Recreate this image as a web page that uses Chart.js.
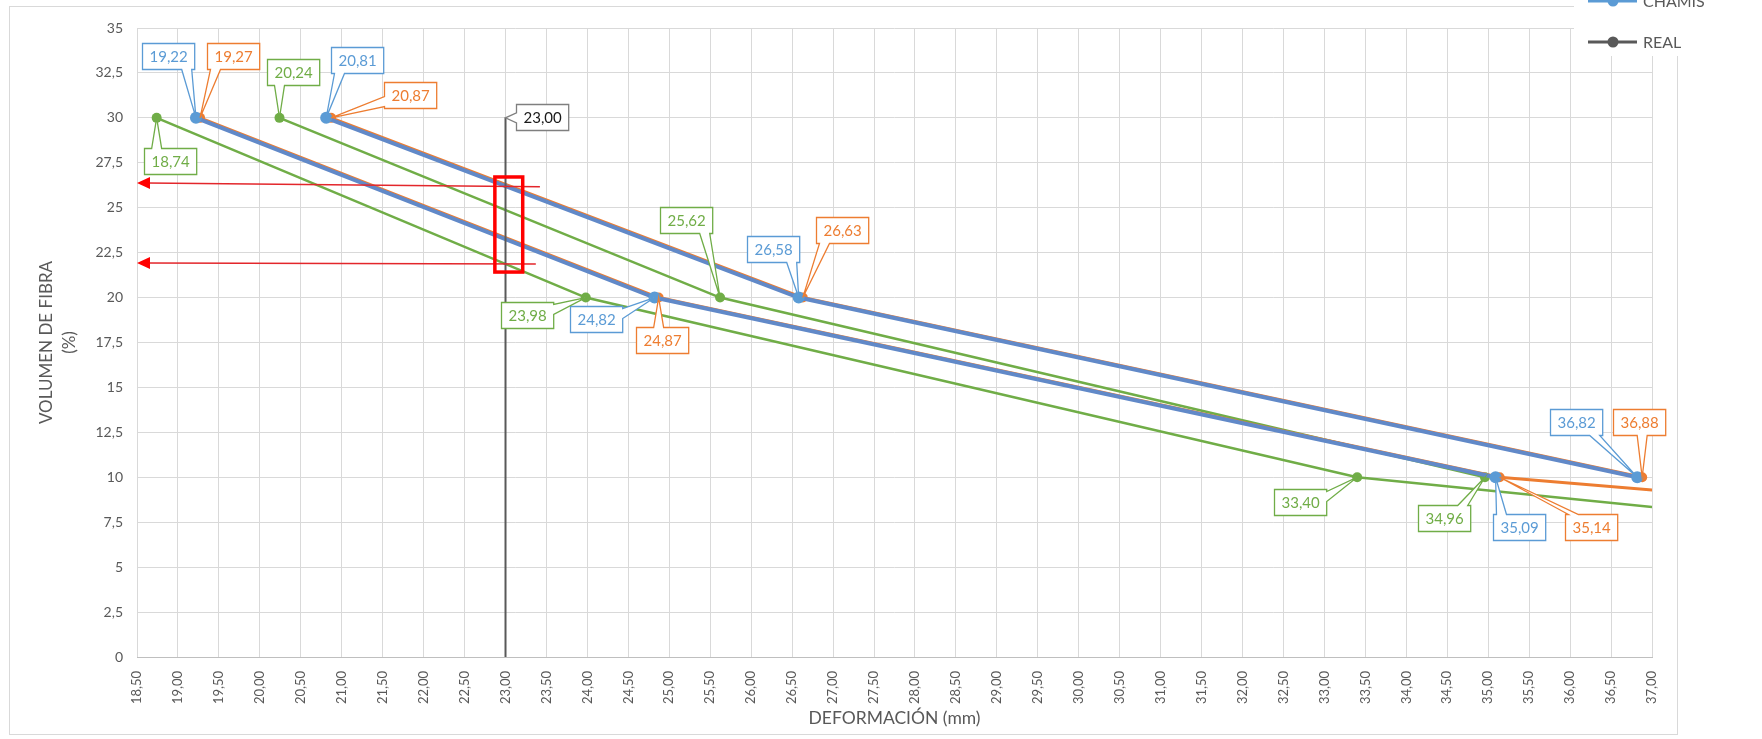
<!DOCTYPE html>
<html>
<head>
<meta charset="utf-8">
<script src="https://cdn.jsdelivr.net/npm/chart.js@4.4.0/dist/chart.umd.min.js"></script>
<style>
  html, body { margin: 0; padding: 0; background: #ffffff; }
  #wrap { position: relative; width: 1762px; height: 739px; }
</style>
</head>
<body>
<div id="wrap"><canvas id="grafico" width="1762" height="739"></canvas></div>
<script>
// Volumen de fibra (%) para cada punto de las curvas
const volumenFibra = [30, 20, 10];

// Deformación (mm) por serie
const chamisA  = [19.22, 24.82, 35.09];
const chamisB  = [20.81, 26.58, 36.82];
const naranjaA = [19.27, 24.87, 35.14];
const naranjaB = [20.87, 26.63, 36.88];
const verdeA   = [18.74, 23.98, 33.40];
const verdeB   = [20.24, 25.62, 34.96];

// Tramo final de dos series que continúa fuera del eje (5 % de fibra)
const naranjaAFinal = { x: 48.2, y: 5 };
const verdeAFinal   = { x: 44.3, y: 5 };

// Ensayo real: deformación constante
const realX = [23.00, 23.00];
const realY = [0, 30];

// Ejes
const ejeX = { min: 18.5, max: 37, paso: 0.5 };
const ejeY = { min: 0, max: 35, paso: 2.5 };

// Lecturas marcadas en rojo sobre x = 23
const flechas = [
  { desde: [23.42, 26.16], hasta: [18.5, 26.38] },
  { desde: [23.37, 21.87], hasta: [18.5, 21.92] }
];
const recuadro = { x0: 22.87, x1: 23.21, y0: 26.71, y1: 21.42 };

// Desplazamiento (px) de cada etiqueta respecto a su punto
const despChamisA  = [[-28, -62], [-58, 21], [24, 50]];
const despChamisB  = [[31, -58], [-26, -49], [-61, -55]];
const despNaranjaA = [[33, -62], [3, 42], [91, 50]];
const despNaranjaB = [[79, -23], [39, -68], [-3, -55]];
const despVerdeA   = [[13, 43], [-59, 17], [-57, 25]];
const despVerdeB   = [[14, -46], [-34, -78], [-41, 41]];
const despReal     = [null, [37, -1]];

const AZUL = '#5b9bd5', AZUL_LINEA = '#6189c8';
const NARANJA = '#ed7d31', VERDE = '#70ad47', GRIS = '#595959';
const FUENTE = 'Lato, "Open Sans", sans-serif';

const puntos = (xs, ys) => xs.map((x, i) => ({ x, y: ys[i] }));
const coma = (v, d) => v.toFixed(d).replace('.', ',');

function serie(label, xs, color, lineColor, ancho, radio, orden, desp, extra) {
  const data = puntos(xs, volumenFibra);
  if (extra) data.push(extra);
  return {
    label, data,
    borderColor: lineColor, backgroundColor: color,
    borderWidth: ancho,
    pointRadius: data.map((_, i) => (i < xs.length ? radio : 0)),
    pointBackgroundColor: color, pointBorderColor: color, pointBorderWidth: 0,
    pointHoverRadius: radio,
    tension: 0, order: orden,
    etiquetas: { desp, color, texto: color }
  };
}

const datasets = [
  {
    label: 'REAL', data: puntos(realX, realY),
    borderColor: GRIS, backgroundColor: GRIS, borderWidth: 2,
    pointRadius: 0, tension: 0, order: 0,
    etiquetas: { desp: despReal, color: '#7f7f7f', texto: '#1a1a1a' }
  },
  serie('CHAMIS', chamisA, AZUL, AZUL_LINEA, 4, 6, 1, despChamisA),
  serie('CHAMIS', chamisB, AZUL, AZUL_LINEA, 4, 6, 1, despChamisB),
  serie('Serie naranja A', naranjaA, NARANJA, NARANJA, 3, 5, 2, despNaranjaA, naranjaAFinal),
  serie('Serie naranja B', naranjaB, NARANJA, NARANJA, 3, 5, 2, despNaranjaB),
  serie('Serie verde A', verdeA, VERDE, VERDE, 2.5, 5, 3, despVerdeA, verdeAFinal),
  serie('Serie verde B', verdeB, VERDE, VERDE, 2.5, 5, 3, despVerdeB)
];

// Marco exterior del gráfico
const marco = {
  id: 'marco',
  beforeDraw(chart) {
    const ctx = chart.ctx;
    ctx.save();
    ctx.fillStyle = '#ffffff';
    ctx.fillRect(0, 0, chart.width, chart.height);
    ctx.strokeStyle = '#d9d9d9';
    ctx.lineWidth = 1;
    ctx.strokeRect(9.5, 6.5, 1668, 728);
    ctx.restore();
  }
};

// Rótulo con forma de globo que apunta al punto
function globo(ctx, l, t, w, h, px, py) {
  const r = l + w, b = t + h, cx = l + w / 2, cy = t + h / 2;
  const dx = px - cx, dy = py - cy, hw = 5;
  const lim = (v, a, c) => Math.max(a, Math.min(c, v));
  const dentro = px >= l && px <= r && py >= t && py <= b;
  let lado = null;
  if (!dentro) {
    lado = Math.abs(dy) / (h / 2) > Math.abs(dx) / (w / 2)
      ? (dy > 0 ? 'abajo' : 'arriba')
      : (dx > 0 ? 'der' : 'izq');
  }
  ctx.beginPath();
  ctx.moveTo(l, t);
  if (lado === 'arriba') { const m = lim(px, l + hw + 3, r - hw - 3); ctx.lineTo(m - hw, t); ctx.lineTo(px, py); ctx.lineTo(m + hw, t); }
  ctx.lineTo(r, t);
  if (lado === 'der') { const m = lim(py, t + hw + 2, b - hw - 2); ctx.lineTo(r, m - hw); ctx.lineTo(px, py); ctx.lineTo(r, m + hw); }
  ctx.lineTo(r, b);
  if (lado === 'abajo') { const m = lim(px, l + hw + 3, r - hw - 3); ctx.lineTo(m + hw, b); ctx.lineTo(px, py); ctx.lineTo(m - hw, b); }
  ctx.lineTo(l, b);
  if (lado === 'izq') { const m = lim(py, t + hw + 2, b - hw - 2); ctx.lineTo(l, m + hw); ctx.lineTo(px, py); ctx.lineTo(l, m - hw); }
  ctx.closePath();
}

// Lecturas en rojo (flechas y recuadro)
const marcasRojas = {
  id: 'marcasRojas',
  afterDatasetsDraw(chart) {
    const { ctx, scales: { x, y } } = chart;
    ctx.save();
    ctx.strokeStyle = '#e3262b';
    ctx.fillStyle = '#ff0000';
    ctx.lineWidth = 1.5;
    flechas.forEach(f => {
      const x0 = x.getPixelForValue(f.desde[0]), y0 = y.getPixelForValue(f.desde[1]);
      const x1 = x.getPixelForValue(f.hasta[0]), y1 = y.getPixelForValue(f.hasta[1]);
      ctx.beginPath();
      ctx.moveTo(x0, y0);
      ctx.lineTo(x1 + 10, y1);
      ctx.stroke();
      ctx.beginPath();
      ctx.moveTo(x1, y1);
      ctx.lineTo(x1 + 13, y1 - 6);
      ctx.lineTo(x1 + 13, y1 + 6);
      ctx.closePath();
      ctx.fill();
    });
    ctx.strokeStyle = '#ff0000';
    ctx.lineWidth = 3.5;
    const rx0 = x.getPixelForValue(recuadro.x0), rx1 = x.getPixelForValue(recuadro.x1);
    const ry0 = y.getPixelForValue(recuadro.y0), ry1 = y.getPixelForValue(recuadro.y1);
    ctx.strokeRect(rx0, ry0, rx1 - rx0, ry1 - ry0);
    ctx.restore();
  }
};

// Etiquetas de datos con el valor de deformación
const etiquetas = {
  id: 'etiquetas',
  afterDatasetsDraw(chart) {
    const ctx = chart.ctx;
    ctx.save();
    ctx.font = '15px ' + FUENTE;
    ctx.textAlign = 'center';
    ctx.textBaseline = 'middle';
    chart.data.datasets.forEach((ds, di) => {
      const meta = chart.getDatasetMeta(di);
      const conf = ds.etiquetas;
      if (!conf) return;
      conf.desp.forEach((d, i) => {
        if (!d) return;
        const el = meta.data[i];
        const texto = coma(ds.data[i].x, 2);
        const w = ctx.measureText(texto).width + 14, h = 26;
        const cx = el.x + d[0], cy = el.y + d[1];
        const l = Math.round(cx - w / 2) + 0.5, t = Math.round(cy - h / 2) + 0.5;
        globo(ctx, l, t, w, h, el.x, el.y);
        ctx.fillStyle = '#ffffff';
        ctx.fill();
        ctx.strokeStyle = conf.color;
        ctx.lineWidth = 1.3;
        ctx.stroke();
        ctx.fillStyle = conf.texto;
        ctx.fillText(texto, l + w / 2, t + h / 2 + 1);
      });
    });
    ctx.restore();
  }
};

// Leyenda (esquina superior derecha)
const leyenda = {
  id: 'leyenda',
  afterDraw(chart) {
    const ctx = chart.ctx;
    const items = [
      { texto: 'CHAMIS', color: AZUL, y: 1 },
      { texto: 'REAL', color: GRIS, y: 42 }
    ];
    ctx.save();
    ctx.fillStyle = '#ffffff';
    ctx.fillRect(1574, 0, 130, 56);
    ctx.font = '16px ' + FUENTE;
    ctx.textBaseline = 'middle';
    items.forEach(it => {
      ctx.strokeStyle = it.color;
      ctx.lineWidth = 3;
      ctx.beginPath();
      ctx.moveTo(1588, it.y);
      ctx.lineTo(1637, it.y);
      ctx.stroke();
      ctx.fillStyle = it.color;
      ctx.beginPath();
      ctx.arc(1613, it.y, 5.5, 0, Math.PI * 2);
      ctx.fill();
      ctx.fillStyle = GRIS;
      ctx.fillText(it.texto, 1643, it.y + 1);
    });
    ctx.restore();
  }
};

Chart.defaults.font.family = FUENTE;
Chart.defaults.color = GRIS;

new Chart(document.getElementById('grafico'), {
  type: 'line',
  data: { datasets },
  options: {
    responsive: false,
    animation: false,
    events: [],
    layout: { padding: { top: 28, right: 110, bottom: 0, left: 0 } },
    plugins: { legend: { display: false }, tooltip: { enabled: false } },
    scales: {
      x: {
        type: 'linear',
        min: ejeX.min, max: ejeX.max,
        afterFit: s => { s.height = 82; },
        ticks: {
          stepSize: ejeX.paso, autoSkip: false,
          minRotation: 90, maxRotation: 90,
          padding: 14,
          font: { size: 13 },
          callback: v => coma(v, 2)
        },
        grid: { color: '#d9d9d9', drawTicks: false },
        border: { color: '#bfbfbf', width: 1 },
        title: {
          display: true, text: 'DEFORMACIÓN (mm)',
          font: { size: 17.5 }, padding: { top: 0, bottom: 10 }
        }
      },
      y: {
        type: 'linear',
        min: ejeY.min, max: ejeY.max,
        afterFit: s => { s.width = 137; },
        ticks: {
          stepSize: ejeY.paso, padding: 14,
          font: { size: 14 },
          callback: v => coma(v, Number.isInteger(v) ? 0 : 1)
        },
        grid: { color: '#d9d9d9', drawTicks: false },
        border: { display: false },
        title: {
          display: true, text: ['VOLUMEN DE FIBRA', '(%)'],
          font: { size: 17, lineHeight: '23px' }, padding: { top: 35, bottom: 0 }
        }
      }
    }
  },
  plugins: [marco, marcasRojas, etiquetas, leyenda]
});
</script>
</body>
</html>
